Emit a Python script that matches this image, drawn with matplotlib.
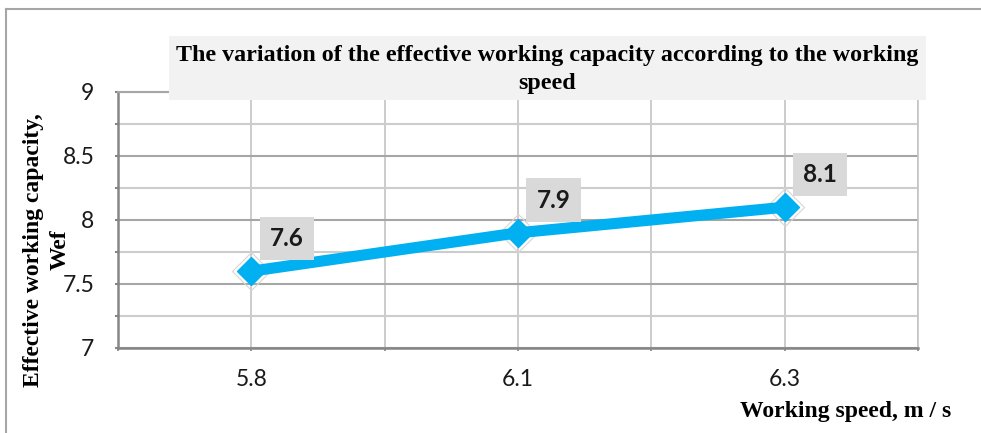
import matplotlib.pyplot as plt
from matplotlib.patches import Rectangle
from matplotlib.lines import Line2D
from matplotlib.ticker import MultipleLocator, FuncFormatter

# data
speeds = ["5.8", "6.1", "6.3"]
capacity = [7.6, 7.9, 8.1]

title = "The variation of the effective working capacity according to the working\nspeed"
ylabel_1 = "Effective working capacity,"
ylabel_2 = "Wef"
xlabel = "Working speed, m / s"

blue = "#00b0f0"
serif = "Liberation Serif"

fig = plt.figure(figsize=(9.81, 4.33), dpi=100)
ax = fig.add_axes([118 / 981, 1 - 348 / 433, 800 / 981, 256 / 433])

x = list(range(len(speeds)))

# grid
ax.set_xlim(-0.5, len(speeds) - 0.5)
ax.set_ylim(7, 9)
ax.set_xticks(x)
ax.set_xticklabels(speeds)
ax.xaxis.set_minor_locator(MultipleLocator(1, offset=0.5))
ax.yaxis.set_major_locator(MultipleLocator(0.5))
ax.yaxis.set_minor_locator(MultipleLocator(0.25))
ax.yaxis.set_major_formatter(FuncFormatter(lambda v, p: f"{v:g}"))
ax.grid(axis="y", which="major", color="#a6a6a6", lw=1.5)
ax.grid(axis="y", which="minor", color="#cccccc", lw=1.5)
ax.grid(axis="x", which="both", color="#c4c4c4", lw=1.2)
ax.set_axisbelow(True)

for side in ["left", "bottom"]:
    ax.spines[side].set_color("#868686")
    ax.spines[side].set_linewidth(1.8)
ax.spines["top"].set_color("#a6a6a6")
ax.spines["top"].set_linewidth(1.5)
ax.spines["right"].set_color("#c4c4c4")
ax.spines["right"].set_linewidth(1.2)

ax.tick_params(axis="y", which="both", length=2, width=1.5, color="#868686", pad=15)
ax.tick_params(axis="x", which="both", length=2, width=1.2, color="#868686", pad=13)
for lab in ax.get_xticklabels() + ax.get_yticklabels():
    lab.set_fontfamily("Lato")
    lab.set_fontsize(16.5)
    lab.set_color("#1a1a1a")

# faint glow around the markers
ax.plot(x, capacity, linestyle="none", marker="D", markersize=19,
        markerfacecolor="none", markeredgecolor="#d6d6d6", markeredgewidth=0.8,
        clip_on=False, zorder=3)
ax.plot(x, capacity, color=blue, lw=8, marker="D", markersize=14,
        markerfacecolor=blue, markeredgecolor=blue, clip_on=False, zorder=4)

for xi, v in zip(x, capacity):
    ax.annotate(f"{v:g}", (xi, v), xytext=(25.5, 23.5), textcoords="offset points",
                ha="center", va="center", fontsize=17.5, fontweight="bold",
                family="Lato", color="#1a1a1a", zorder=6,
                bbox=dict(boxstyle="square,pad=0.42", fc="#d9d9d9", ec="none"))

# title box
fig.patches.append(Rectangle((169 / 981, 1 - 100 / 433), 757 / 981, 64 / 433,
                             transform=fig.transFigure, facecolor="#f2f2f2",
                             edgecolor="none", zorder=5))
fig.text(547.5 / 981, 1 - 69.5 / 433, title, ha="center", va="center",
         fontsize=17.3, fontweight="bold", family=serif, linespacing=1.45, zorder=6)

# y label: two centred lines
fig.text(34 / 981, 1 - 250 / 433, ylabel_1, rotation=90, ha="center", va="center",
         fontsize=17, fontweight="bold", family=serif)
fig.text(60 / 981, 1 - 250 / 433, ylabel_2, rotation=90, ha="center", va="center",
         fontsize=17, fontweight="bold", family=serif)
fig.text(951 / 981, 1 - 412 / 433, xlabel, ha="right", va="center",
         fontsize=17, fontweight="bold", family=serif)

# outer frame of the chart
fig.lines.append(Line2D([6 / 981, 6 / 981], [0, 1 - 9 / 433], transform=fig.transFigure,
                        color="#a6a6a6", lw=1.5))
fig.lines.append(Line2D([6 / 981, 1], [1 - 9 / 433, 1 - 9 / 433], transform=fig.transFigure,
                        color="#a6a6a6", lw=1.5))

fig.savefig("out.png", dpi=100)
